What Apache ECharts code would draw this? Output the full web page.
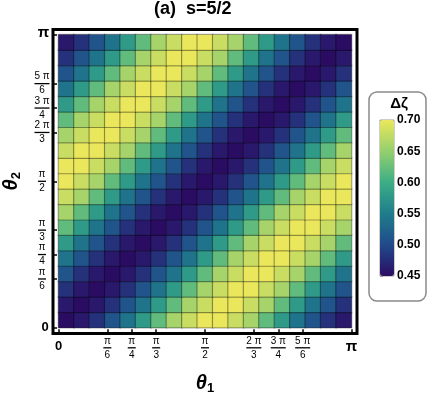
<!DOCTYPE html>
<html>
<head>
<meta charset="utf-8">
<script src="https://cdn.jsdelivr.net/npm/echarts@6/dist/echarts.min.js"></script>
<style>
  html, body { margin: 0; padding: 0; background: #fff; }
  #chart { width: 428px; height: 395px; }
</style>
</head>
<body>
<div id="chart"></div>
<script>
const PI = Math.PI;

// tick positions on both theta axes, as fractions of pi
const tickNum = [0, 1, 1, 1, 1, 2, 3, 5, 1];
const tickDen = [1, 6, 4, 3, 2, 3, 4, 6, 1];

// colour bar range / labels
const dzMin = 0.45;
const dzMax = 0.70;
const dzStep = 0.05;

// delta zeta, 19 x 19 mesh cells
// row = theta2 cell (bottom to top), column = theta1 cell (left to right)
const dz = [
  [.45,.46,.48,.51,.54,.58,.62,.66,.68,.70,.70,.68,.66,.62,.58,.54,.51,.48,.46],
  [.46,.45,.46,.48,.51,.54,.58,.62,.66,.68,.70,.70,.68,.66,.62,.58,.54,.51,.48],
  [.48,.46,.45,.46,.48,.51,.54,.58,.62,.66,.68,.70,.70,.68,.66,.62,.58,.54,.51],
  [.51,.48,.46,.45,.46,.48,.51,.54,.58,.62,.66,.68,.70,.70,.68,.66,.62,.58,.54],
  [.54,.51,.48,.46,.45,.46,.48,.51,.54,.58,.62,.66,.68,.70,.70,.68,.66,.62,.58],
  [.58,.54,.51,.48,.46,.45,.46,.48,.51,.54,.58,.62,.66,.68,.70,.70,.68,.66,.62],
  [.62,.58,.54,.51,.48,.46,.45,.46,.48,.51,.54,.58,.62,.66,.68,.70,.70,.68,.66],
  [.66,.62,.58,.54,.51,.48,.46,.45,.46,.48,.51,.54,.58,.62,.66,.68,.70,.70,.68],
  [.68,.66,.62,.58,.54,.51,.48,.46,.45,.46,.48,.51,.54,.58,.62,.66,.68,.70,.70],
  [.70,.68,.66,.62,.58,.54,.51,.48,.46,.45,.46,.48,.51,.54,.58,.62,.66,.68,.70],
  [.70,.70,.68,.66,.62,.58,.54,.51,.48,.46,.45,.46,.48,.51,.54,.58,.62,.66,.68],
  [.68,.70,.70,.68,.66,.62,.58,.54,.51,.48,.46,.45,.46,.48,.51,.54,.58,.62,.66],
  [.66,.68,.70,.70,.68,.66,.62,.58,.54,.51,.48,.46,.45,.46,.48,.51,.54,.58,.62],
  [.62,.66,.68,.70,.70,.68,.66,.62,.58,.54,.51,.48,.46,.45,.46,.48,.51,.54,.58],
  [.58,.62,.66,.68,.70,.70,.68,.66,.62,.58,.54,.51,.48,.46,.45,.46,.48,.51,.54],
  [.54,.58,.62,.66,.68,.70,.70,.68,.66,.62,.58,.54,.51,.48,.46,.45,.46,.48,.51],
  [.51,.54,.58,.62,.66,.68,.70,.70,.68,.66,.62,.58,.54,.51,.48,.46,.45,.46,.48],
  [.48,.51,.54,.58,.62,.66,.68,.70,.70,.68,.66,.62,.58,.54,.51,.48,.46,.45,.46],
  [.46,.48,.51,.54,.58,.62,.66,.68,.70,.70,.68,.66,.62,.58,.54,.51,.48,.46,.45]
];

let cells = [];
let heatData = [];
for (let j = 0; j < dz.length; j++) {
  for (let i = 0; i < dz[j].length; i++) {
    heatData.push([i, j, dz[j][i]]);
  }
}
for (let i = 0; i < dz.length; i++) cells.push(i);

const tickVals = tickNum.map((n, k) => n / tickDen[k] * PI);
const pad = 5.5 / 293 * PI;   // gap between frame and plot area

function tickLabel(v) {
  let k = tickVals.findIndex(t => Math.abs(t - v) < 1e-6);
  if (k < 0) return '';
  let n = tickNum[k], d = tickDen[k];
  if (n === 0) return '{z|0}';
  if (n === d) return '{p|π}';
  if (n === 1) return '{n1|π}\n{b1| }\n{d1|' + d + '}';
  return '{n2|' + n + ' π}\n{b2| }\n{d2|' + d + '}';
}

const txt = { fontSize: 10, lineHeight: 11, fontFamily: 'Liberation Sans', color: '#000', align: 'center' };
const fracRich = {
  n1: Object.assign({ width: 8 }, txt),
  d1: Object.assign({ width: 8 }, txt),
  n2: Object.assign({ width: 15 }, txt),
  d2: Object.assign({ width: 15 }, txt),
  b1: { width: 8, height: 1.3, lineHeight: 3, backgroundColor: '#000', fontSize: 1, align: 'center' },
  b2: { width: 15, height: 1.3, lineHeight: 3, backgroundColor: '#000', fontSize: 1, align: 'center' },
  z: { fontSize: 13, fontWeight: 'bold', fontFamily: 'Liberation Sans', color: '#000', padding: [5, 0, 0, 0] },
  p: { fontSize: 15, fontWeight: 'bold', fontFamily: 'Liberation Sans', color: '#000', padding: [4, 0, 0, 0] }
};

const fracRichY = Object.assign({}, fracRich, {
  z: { fontSize: 13, fontWeight: 'bold', fontFamily: 'Liberation Sans', color: '#000', padding: [0, 0, 0, 6] },
  p: { fontSize: 15, fontWeight: 'bold', fontFamily: 'Liberation Sans', color: '#000', padding: [0, 0, 4, 3] }
});

const nameRich = {
  t: { fontSize: 20, fontWeight: 'bold', fontStyle: 'italic', fontFamily: 'Liberation Sans', color: '#000', lineHeight: 24, verticalAlign: 'middle' },
  s: { fontSize: 13, fontWeight: 'bold', fontFamily: 'Liberation Sans', color: '#000', lineHeight: 24, padding: [10, 0, 0, 0], verticalAlign: 'middle' }
};

let chart = echarts.init(document.getElementById('chart'), null, { renderer: 'canvas' });

let option = {
  animation: false,
  backgroundColor: '#fff',
  title: {
    text: '(a)  s=5/2',
    left: 154,
    top: 0,
    padding: 0,
    textStyle: { fontSize: 18, fontWeight: 'bold', fontFamily: 'Liberation Sans', color: '#000' }
  },
  grid: [
    { left: 58.5, top: 34.7, width: 293, height: 293, show: false, outerBoundsMode: 'none' },
    { left: 53, top: 29.3, width: 304, height: 304, show: false, outerBoundsMode: 'none' },
    { left: 380, top: 120, width: 14, height: 156, show: true, borderColor: 'rgba(60,60,20,0.5)', borderWidth: 1, outerBoundsMode: 'none' }
  ],
  xAxis: [
    { type: 'category', gridIndex: 0, data: cells, show: false },
    {
      type: 'value', gridIndex: 1, min: -pad, max: PI + pad,
      axisLine: { show: false, onZero: false },
      splitLine: { show: false },
      axisTick: { show: true, inside: true, length: 4, customValues: tickVals, lineStyle: { color: '#000', width: 1.5 } },
      axisLabel: { customValues: tickVals, margin: 2, formatter: tickLabel, rich: fracRich, verticalAlign: 'top' },
      name: '{t|θ}{s|1}',
      nameLocation: 'middle',
      nameGap: 38,
      nameTextStyle: { rich: nameRich }
    },
    { type: 'value', gridIndex: 2, show: false, min: 0, max: 1 }
  ],
  yAxis: [
    { type: 'category', gridIndex: 0, data: cells, show: false },
    {
      type: 'value', gridIndex: 1, min: -pad, max: PI + pad,
      axisLine: { show: false, onZero: false },
      splitLine: { show: false },
      axisTick: { show: true, inside: true, length: 4, customValues: tickVals, lineStyle: { color: '#000', width: 1.5 } },
      axisLabel: { customValues: tickVals, margin: 11, align: 'center', formatter: tickLabel, rich: fracRichY },
      name: '{t|θ}{s|2}',
      nameLocation: 'middle',
      nameGap: 30,
      nameTextStyle: { rich: nameRich }
    },
    {
      type: 'value', gridIndex: 2, position: 'right',
      min: dzMin, max: dzMax, interval: dzStep,
      axisLine: { show: false },
      splitLine: { show: false },
      axisTick: { show: true, length: 3, lineStyle: { color: '#999' } },
      minorTick: { show: true, splitNumber: 5, length: 2, lineStyle: { color: '#aaa' } },
      axisLabel: {
        margin: 3, fontSize: 12, fontWeight: 'bold', fontFamily: 'Liberation Sans', color: '#000',
        formatter: v => v.toFixed(2)
      }
    }
  ],
  visualMap: {
    type: 'continuous',
    seriesIndex: 0,
    min: dzMin,
    max: dzMax,
    calculable: false,
    hoverLink: false,
    left: 380,
    top: 120,
    itemWidth: 14,
    itemHeight: 156,
    padding: 0,
    text: null,
    inRange: { color: ['#2b0c63', '#214a8b', '#1f7d8b', '#3cae86', '#95cf6e', '#ebe75c'] }
  },
  graphic: [
    {
      type: 'rect',
      shape: { x: 53, y: 29.5, width: 304, height: 304 },
      style: { fill: 'none', stroke: '#000', lineWidth: 3 }
    },
    {
      type: 'rect',
      shape: { x: 369, y: 92, width: 57, height: 209, r: 8 },
      style: { fill: 'none', stroke: '#8a8a8a', lineWidth: 1.5 }
    },
    {
      type: 'text',
      x: 399, y: 104,
      style: { text: 'Δζ', fontSize: 15, fontWeight: 'bold', fontFamily: 'Liberation Sans', fill: '#000', align: 'center', verticalAlign: 'middle' }
    }
  ],
  series: [
    {
      type: 'heatmap',
      xAxisIndex: 0,
      yAxisIndex: 0,
      data: heatData,
      itemStyle: { borderColor: 'rgba(0,0,0,0.33)', borderWidth: 1.2 },
      emphasis: { disabled: true }
    }
  ]
};

chart.setOption(option);
</script>
</body>
</html>
